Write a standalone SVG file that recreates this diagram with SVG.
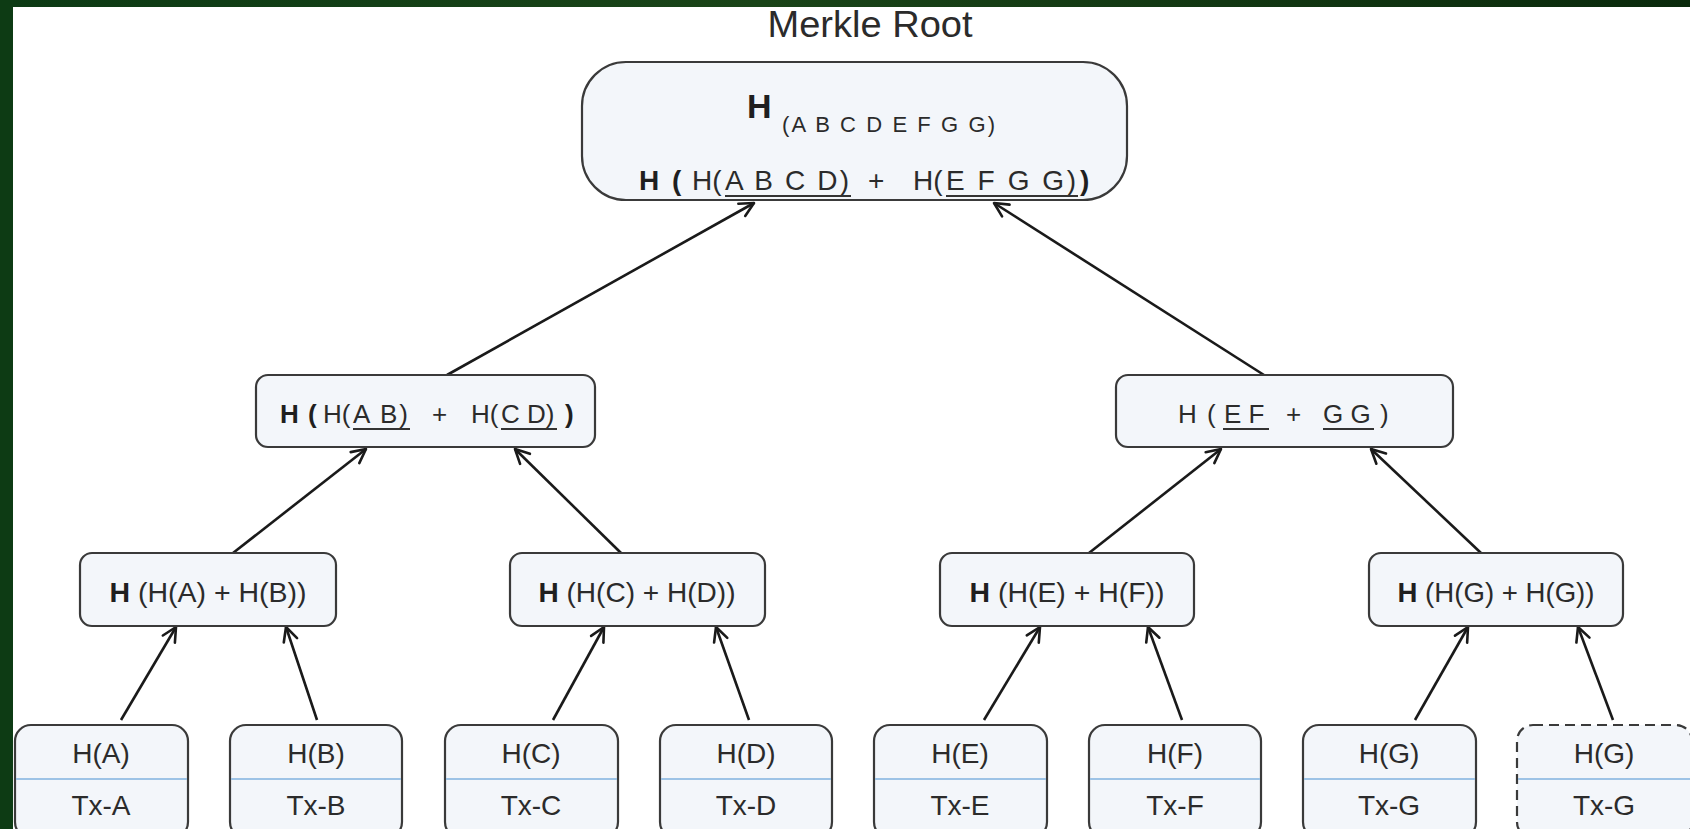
<svg xmlns="http://www.w3.org/2000/svg" width="1690" height="829" viewBox="0 0 1690 829">
  <defs>
    <linearGradient id="band" x1="0" y1="0" x2="1" y2="0">
      <stop offset="0" stop-color="#0c3a14"/>
      <stop offset="0.45" stop-color="#1a4418"/>
      <stop offset="1" stop-color="#0a2a0c"/>
    </linearGradient>
    <marker id="arrow" viewBox="0 0 20 20" refX="17" refY="10" markerWidth="20" markerHeight="20" markerUnits="userSpaceOnUse" orient="auto">
      <path d="M3 3 L17 10 L3 17" fill="none" stroke="#1a1a1a" stroke-width="2.6" stroke-linecap="round" stroke-linejoin="round"/>
    </marker>
    <style>
      .box { fill: #f3f6fa; stroke: #3a3a3a; stroke-width: 2.2; }
      .dashed { stroke-dasharray: 10 6; }
      .divider { stroke: #9dc3e6; stroke-width: 2; }
      .edge { stroke: #1a1a1a; stroke-width: 2.6; fill: none; marker-end: url(#arrow); }
      .ul { stroke: #333333; stroke-width: 1.8; }
      text { font-family: "Liberation Sans", Arial, sans-serif; fill: #2b2b2b; }
      .b { font-weight: bold; fill: #1f1f1f; }
      .lab { font-size: 28px; text-anchor: middle; }
      .l2 { font-size: 26px; }
      .rt { font-size: 28px; }
    </style>
  </defs>

  <!-- page background with the dark green frame at top and left -->
  <rect x="0" y="0" width="1690" height="829" fill="#ffffff"/>
  <rect x="0" y="0" width="1690" height="7" fill="url(#band)"/>
  <rect x="0" y="0" width="13" height="829" fill="#0d3b14"/>

  <text x="870" y="37" font-size="36" text-anchor="middle" textLength="205" lengthAdjust="spacingAndGlyphs" fill="#111111">Merkle Root</text>

  <!-- connectors -->
  <g id="connectors">
    <line class="edge" x1="447" y1="375" x2="754" y2="203"/>
    <line class="edge" x1="1264" y1="375" x2="994" y2="203"/>
    <line class="edge" x1="233" y1="553" x2="366" y2="449"/>
    <line class="edge" x1="621" y1="553" x2="515" y2="449"/>
    <line class="edge" x1="1089" y1="553" x2="1221" y2="449"/>
    <line class="edge" x1="1481" y1="553" x2="1371" y2="449"/>
    <line class="edge" x1="121" y1="720" x2="176" y2="627"/>
    <line class="edge" x1="317" y1="720" x2="286" y2="627"/>
    <line class="edge" x1="553" y1="720" x2="604" y2="627"/>
    <line class="edge" x1="749" y1="720" x2="716" y2="627"/>
    <line class="edge" x1="984" y1="720" x2="1040" y2="627"/>
    <line class="edge" x1="1182" y1="720" x2="1148" y2="627"/>
    <line class="edge" x1="1415" y1="720" x2="1468" y2="627"/>
    <line class="edge" x1="1613" y1="720" x2="1578" y2="627"/>
  </g>

  <!-- root -->
  <g id="root">
    <rect class="box" x="582" y="62" width="545" height="138" rx="44"/>
    <text x="747" y="118" font-size="34" class="b">H</text>
    <text x="782" y="132" font-size="22" textLength="213" lengthAdjust="spacing">(A B C D E F G G)</text>
    <text class="rt" y="190">
      <tspan class="b" x="639">H</tspan>
      <tspan class="b" x="672">(</tspan>
      <tspan x="692">H(</tspan>
      <tspan x="725" textLength="124" lengthAdjust="spacing">A B C D)</tspan>
      <tspan x="868">+</tspan>
      <tspan x="913">H(</tspan>
      <tspan x="946" textLength="130" lengthAdjust="spacing">E F G G)</tspan>
      <tspan class="b" x="1080">)</tspan>
    </text>
    <line class="ul" x1="725" y1="196" x2="851" y2="196"/>
    <line class="ul" x1="946" y1="196" x2="1078" y2="196"/>
  </g>

  <!-- second level -->
  <g id="h-abcd">
    <rect class="box" x="256" y="375" width="339" height="72" rx="12"/>
    <text class="l2" y="423">
      <tspan class="b" x="280">H</tspan>
      <tspan class="b" x="308">(</tspan>
      <tspan x="323">H(</tspan>
      <tspan x="353" textLength="55" lengthAdjust="spacing">A B)</tspan>
      <tspan x="432">+</tspan>
      <tspan x="471">H(</tspan>
      <tspan x="501">C D)</tspan>
      <tspan class="b" x="565">)</tspan>
    </text>
    <line class="ul" x1="353" y1="429" x2="410" y2="429"/>
    <line class="ul" x1="501" y1="429" x2="557" y2="429"/>
  </g>

  <g id="h-efgg">
    <rect class="box" x="1116" y="375" width="337" height="72" rx="12"/>
    <text class="l2" y="423">
      <tspan x="1178">H</tspan>
      <tspan x="1207">(</tspan>
      <tspan x="1224">E F</tspan>
      <tspan x="1286">+</tspan>
      <tspan x="1323">G G</tspan>
      <tspan x="1380">)</tspan>
    </text>
    <line class="ul" x1="1223" y1="429" x2="1269" y2="429"/>
    <line class="ul" x1="1323" y1="429" x2="1374" y2="429"/>
  </g>

  <!-- third level -->
  <g id="h-ab">
    <rect class="box" x="80" y="553" width="256" height="73" rx="12"/>
    <text class="lab" x="208" y="602" textLength="197" lengthAdjust="spacingAndGlyphs"><tspan class="b">H</tspan> (H(A) + H(B))</text>
  </g>
  <g id="h-cd">
    <rect class="box" x="510" y="553" width="255" height="73" rx="12"/>
    <text class="lab" x="637" y="602" textLength="197" lengthAdjust="spacingAndGlyphs"><tspan class="b">H</tspan> (H(C) + H(D))</text>
  </g>
  <g id="h-ef">
    <rect class="box" x="940" y="553" width="254" height="73" rx="12"/>
    <text class="lab" x="1067" y="602" textLength="195" lengthAdjust="spacingAndGlyphs"><tspan class="b">H</tspan> (H(E) + H(F))</text>
  </g>
  <g id="h-gg">
    <rect class="box" x="1369" y="553" width="254" height="73" rx="12"/>
    <text class="lab" x="1496" y="602" textLength="197" lengthAdjust="spacingAndGlyphs"><tspan class="b">H</tspan> (H(G) + H(G))</text>
  </g>

  <!-- leaves: hash on top, transaction below -->
  <g id="leaf-a">
    <rect class="box" x="15" y="725" width="173" height="113" rx="16"/>
    <line class="divider" x1="16" y1="779" x2="187" y2="779"/>
    <text class="lab" x="101" y="763">H(A)</text>
    <text class="lab" x="101" y="815">Tx-A</text>
  </g>
  <g id="leaf-b">
    <rect class="box" x="230" y="725" width="172" height="113" rx="16"/>
    <line class="divider" x1="231" y1="779" x2="401" y2="779"/>
    <text class="lab" x="316" y="763">H(B)</text>
    <text class="lab" x="316" y="815">Tx-B</text>
  </g>
  <g id="leaf-c">
    <rect class="box" x="445" y="725" width="173" height="113" rx="16"/>
    <line class="divider" x1="446" y1="779" x2="617" y2="779"/>
    <text class="lab" x="531" y="763">H(C)</text>
    <text class="lab" x="531" y="815">Tx-C</text>
  </g>
  <g id="leaf-d">
    <rect class="box" x="660" y="725" width="172" height="113" rx="16"/>
    <line class="divider" x1="661" y1="779" x2="831" y2="779"/>
    <text class="lab" x="746" y="763">H(D)</text>
    <text class="lab" x="746" y="815">Tx-D</text>
  </g>
  <g id="leaf-e">
    <rect class="box" x="874" y="725" width="173" height="113" rx="16"/>
    <line class="divider" x1="875" y1="779" x2="1046" y2="779"/>
    <text class="lab" x="960" y="763">H(E)</text>
    <text class="lab" x="960" y="815">Tx-E</text>
  </g>
  <g id="leaf-f">
    <rect class="box" x="1089" y="725" width="172" height="113" rx="16"/>
    <line class="divider" x1="1090" y1="779" x2="1260" y2="779"/>
    <text class="lab" x="1175" y="763">H(F)</text>
    <text class="lab" x="1175" y="815">Tx-F</text>
  </g>
  <g id="leaf-g">
    <rect class="box" x="1303" y="725" width="173" height="113" rx="16"/>
    <line class="divider" x1="1304" y1="779" x2="1475" y2="779"/>
    <text class="lab" x="1389" y="763">H(G)</text>
    <text class="lab" x="1389" y="815">Tx-G</text>
  </g>
  <!-- duplicated last leaf, drawn dashed -->
  <g id="leaf-g-copy">
    <rect class="box dashed" x="1517" y="725" width="175" height="113" rx="16"/>
    <line class="divider" x1="1518" y1="779" x2="1690" y2="779"/>
    <text class="lab" x="1604" y="763">H(G)</text>
    <text class="lab" x="1604" y="815">Tx-G</text>
  </g>
</svg>
